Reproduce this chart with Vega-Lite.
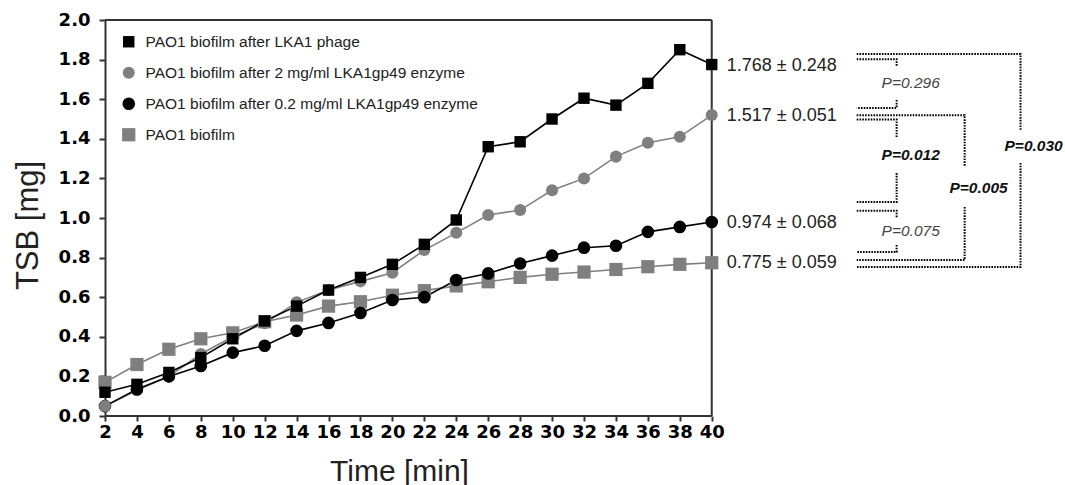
{
  "$schema": "https://vega.github.io/schema/vega-lite/v6.json",
  "width": 958,
  "height": 396,
  "autosize": {"type": "none"},
  "padding": {"left": 105, "top": 20, "right": 2, "bottom": 69},
  "background": "white",
  "config": {"view": {"stroke": null}, "font": "Liberation Sans", "axis": {"labelOverlap": false, "grid": false}},
  "datasets": {
    "series": [
      {"t": 2, "s": "PAO1 biofilm", "v": 0.17}, {"t": 4, "s": "PAO1 biofilm", "v": 0.26}, {"t": 6, "s": "PAO1 biofilm", "v": 0.337}, {"t": 8, "s": "PAO1 biofilm", "v": 0.39}, {"t": 10, "s": "PAO1 biofilm", "v": 0.42}, {"t": 12, "s": "PAO1 biofilm", "v": 0.476}, {"t": 14, "s": "PAO1 biofilm", "v": 0.51}, {"t": 16, "s": "PAO1 biofilm", "v": 0.555}, {"t": 18, "s": "PAO1 biofilm", "v": 0.577}, {"t": 20, "s": "PAO1 biofilm", "v": 0.61}, {"t": 22, "s": "PAO1 biofilm", "v": 0.633}, {"t": 24, "s": "PAO1 biofilm", "v": 0.657}, {"t": 26, "s": "PAO1 biofilm", "v": 0.678}, {"t": 28, "s": "PAO1 biofilm", "v": 0.7}, {"t": 30, "s": "PAO1 biofilm", "v": 0.716}, {"t": 32, "s": "PAO1 biofilm", "v": 0.727}, {"t": 34, "s": "PAO1 biofilm", "v": 0.74}, {"t": 36, "s": "PAO1 biofilm", "v": 0.754}, {"t": 38, "s": "PAO1 biofilm", "v": 0.766}, {"t": 40, "s": "PAO1 biofilm", "v": 0.774},
      {"t": 2, "s": "PAO1 biofilm after 0.2 mg/ml LKA1gp49 enzyme", "v": 0.05},
      {"t": 2, "s": "PAO1 biofilm after 2 mg/ml LKA1gp49 enzyme", "v": 0.05}, {"t": 4, "s": "PAO1 biofilm after 2 mg/ml LKA1gp49 enzyme", "v": 0.13}, {"t": 6, "s": "PAO1 biofilm after 2 mg/ml LKA1gp49 enzyme", "v": 0.2}, {"t": 8, "s": "PAO1 biofilm after 2 mg/ml LKA1gp49 enzyme", "v": 0.313}, {"t": 10, "s": "PAO1 biofilm after 2 mg/ml LKA1gp49 enzyme", "v": 0.4}, {"t": 12, "s": "PAO1 biofilm after 2 mg/ml LKA1gp49 enzyme", "v": 0.468}, {"t": 14, "s": "PAO1 biofilm after 2 mg/ml LKA1gp49 enzyme", "v": 0.574}, {"t": 16, "s": "PAO1 biofilm after 2 mg/ml LKA1gp49 enzyme", "v": 0.636}, {"t": 18, "s": "PAO1 biofilm after 2 mg/ml LKA1gp49 enzyme", "v": 0.68}, {"t": 20, "s": "PAO1 biofilm after 2 mg/ml LKA1gp49 enzyme", "v": 0.724}, {"t": 22, "s": "PAO1 biofilm after 2 mg/ml LKA1gp49 enzyme", "v": 0.838}, {"t": 24, "s": "PAO1 biofilm after 2 mg/ml LKA1gp49 enzyme", "v": 0.925}, {"t": 26, "s": "PAO1 biofilm after 2 mg/ml LKA1gp49 enzyme", "v": 1.015}, {"t": 28, "s": "PAO1 biofilm after 2 mg/ml LKA1gp49 enzyme", "v": 1.04}, {"t": 30, "s": "PAO1 biofilm after 2 mg/ml LKA1gp49 enzyme", "v": 1.14}, {"t": 32, "s": "PAO1 biofilm after 2 mg/ml LKA1gp49 enzyme", "v": 1.2}, {"t": 34, "s": "PAO1 biofilm after 2 mg/ml LKA1gp49 enzyme", "v": 1.31}, {"t": 36, "s": "PAO1 biofilm after 2 mg/ml LKA1gp49 enzyme", "v": 1.38}, {"t": 38, "s": "PAO1 biofilm after 2 mg/ml LKA1gp49 enzyme", "v": 1.41}, {"t": 40, "s": "PAO1 biofilm after 2 mg/ml LKA1gp49 enzyme", "v": 1.52},
      {"t": 4, "s": "PAO1 biofilm after 0.2 mg/ml LKA1gp49 enzyme", "v": 0.135}, {"t": 6, "s": "PAO1 biofilm after 0.2 mg/ml LKA1gp49 enzyme", "v": 0.2}, {"t": 8, "s": "PAO1 biofilm after 0.2 mg/ml LKA1gp49 enzyme", "v": 0.253}, {"t": 10, "s": "PAO1 biofilm after 0.2 mg/ml LKA1gp49 enzyme", "v": 0.32}, {"t": 12, "s": "PAO1 biofilm after 0.2 mg/ml LKA1gp49 enzyme", "v": 0.355}, {"t": 14, "s": "PAO1 biofilm after 0.2 mg/ml LKA1gp49 enzyme", "v": 0.43}, {"t": 16, "s": "PAO1 biofilm after 0.2 mg/ml LKA1gp49 enzyme", "v": 0.47}, {"t": 18, "s": "PAO1 biofilm after 0.2 mg/ml LKA1gp49 enzyme", "v": 0.52}, {"t": 20, "s": "PAO1 biofilm after 0.2 mg/ml LKA1gp49 enzyme", "v": 0.586}, {"t": 22, "s": "PAO1 biofilm after 0.2 mg/ml LKA1gp49 enzyme", "v": 0.6}, {"t": 24, "s": "PAO1 biofilm after 0.2 mg/ml LKA1gp49 enzyme", "v": 0.687}, {"t": 26, "s": "PAO1 biofilm after 0.2 mg/ml LKA1gp49 enzyme", "v": 0.72}, {"t": 28, "s": "PAO1 biofilm after 0.2 mg/ml LKA1gp49 enzyme", "v": 0.77}, {"t": 30, "s": "PAO1 biofilm after 0.2 mg/ml LKA1gp49 enzyme", "v": 0.81}, {"t": 32, "s": "PAO1 biofilm after 0.2 mg/ml LKA1gp49 enzyme", "v": 0.85}, {"t": 34, "s": "PAO1 biofilm after 0.2 mg/ml LKA1gp49 enzyme", "v": 0.86}, {"t": 36, "s": "PAO1 biofilm after 0.2 mg/ml LKA1gp49 enzyme", "v": 0.93}, {"t": 38, "s": "PAO1 biofilm after 0.2 mg/ml LKA1gp49 enzyme", "v": 0.955}, {"t": 40, "s": "PAO1 biofilm after 0.2 mg/ml LKA1gp49 enzyme", "v": 0.98},
      {"t": 2, "s": "PAO1 biofilm after LKA1 phage", "v": 0.12}, {"t": 4, "s": "PAO1 biofilm after LKA1 phage", "v": 0.16}, {"t": 6, "s": "PAO1 biofilm after LKA1 phage", "v": 0.22}, {"t": 8, "s": "PAO1 biofilm after LKA1 phage", "v": 0.295}, {"t": 10, "s": "PAO1 biofilm after LKA1 phage", "v": 0.39}, {"t": 12, "s": "PAO1 biofilm after LKA1 phage", "v": 0.48}, {"t": 14, "s": "PAO1 biofilm after LKA1 phage", "v": 0.555}, {"t": 16, "s": "PAO1 biofilm after LKA1 phage", "v": 0.636}, {"t": 18, "s": "PAO1 biofilm after LKA1 phage", "v": 0.7}, {"t": 20, "s": "PAO1 biofilm after LKA1 phage", "v": 0.766}, {"t": 22, "s": "PAO1 biofilm after LKA1 phage", "v": 0.867}, {"t": 24, "s": "PAO1 biofilm after LKA1 phage", "v": 0.99}, {"t": 26, "s": "PAO1 biofilm after LKA1 phage", "v": 1.36}, {"t": 28, "s": "PAO1 biofilm after LKA1 phage", "v": 1.385}, {"t": 30, "s": "PAO1 biofilm after LKA1 phage", "v": 1.5}, {"t": 32, "s": "PAO1 biofilm after LKA1 phage", "v": 1.605}, {"t": 34, "s": "PAO1 biofilm after LKA1 phage", "v": 1.57}, {"t": 36, "s": "PAO1 biofilm after LKA1 phage", "v": 1.68}, {"t": 38, "s": "PAO1 biofilm after LKA1 phage", "v": 1.85}, {"t": 40, "s": "PAO1 biofilm after LKA1 phage", "v": 1.775}
    ],
    "frame": [
      {"t": 2, "t2": 40, "v": 0, "v2": 0},
      {"t": 2, "t2": 40, "v": 2, "v2": 2},
      {"t": 40, "t2": 40, "v": 0, "v2": 2}
    ],
    "means": [
      {"t": 40, "v": 1.768, "label": "1.768 ± 0.248"},
      {"t": 40, "v": 1.517, "label": "1.517 ± 0.051"},
      {"t": 40, "v": 0.974, "label": "0.974 ± 0.068"},
      {"t": 40, "v": 0.775, "label": "0.775 ± 0.059"}
    ],
    "brackets": [
      {"g": 1, "o": 1, "t": 49.08, "v": 1.802}, {"g": 1, "o": 2, "t": 51.58, "v": 1.802}, {"g": 1, "o": 3, "t": 51.58, "v": 1.768},
      {"g": 2, "o": 1, "t": 51.58, "v": 1.596}, {"g": 2, "o": 2, "t": 51.58, "v": 1.556}, {"g": 2, "o": 3, "t": 49.08, "v": 1.556},
      {"g": 3, "o": 1, "t": 49.08, "v": 1.498}, {"g": 3, "o": 2, "t": 51.58, "v": 1.498}, {"g": 3, "o": 3, "t": 51.58, "v": 1.409},
      {"g": 4, "o": 1, "t": 51.58, "v": 1.227}, {"g": 4, "o": 2, "t": 51.58, "v": 1.081}, {"g": 4, "o": 3, "t": 49.08, "v": 1.081},
      {"g": 5, "o": 1, "t": 49.08, "v": 1.037}, {"g": 5, "o": 2, "t": 51.58, "v": 1.037}, {"g": 5, "o": 3, "t": 51.58, "v": 1.0},
      {"g": 6, "o": 1, "t": 51.58, "v": 0.864}, {"g": 6, "o": 2, "t": 51.58, "v": 0.828}, {"g": 6, "o": 3, "t": 49.08, "v": 0.828},
      {"g": 7, "o": 1, "t": 49.08, "v": 1.519}, {"g": 7, "o": 2, "t": 55.84, "v": 1.519}, {"g": 7, "o": 3, "t": 55.84, "v": 1.258},
      {"g": 8, "o": 1, "t": 55.84, "v": 1.056}, {"g": 8, "o": 2, "t": 55.84, "v": 0.788}, {"g": 8, "o": 3, "t": 49.08, "v": 0.788},
      {"g": 9, "o": 1, "t": 49.08, "v": 1.828}, {"g": 9, "o": 2, "t": 59.34, "v": 1.828}, {"g": 9, "o": 3, "t": 59.34, "v": 1.444},
      {"g": 10, "o": 1, "t": 59.34, "v": 1.278}, {"g": 10, "o": 2, "t": 59.34, "v": 0.7525}, {"g": 10, "o": 3, "t": 49.08, "v": 0.7525}
    ],
    "pvals": [
      {"t": 52.46, "v": 1.682, "label": "P=0.296", "sig": false},
      {"t": 52.46, "v": 1.318, "label": "P=0.012", "sig": true},
      {"t": 52.46, "v": 0.934, "label": "P=0.075", "sig": false},
      {"t": 56.71, "v": 1.152, "label": "P=0.005", "sig": true},
      {"t": 60.16, "v": 1.364, "label": "P=0.030", "sig": true}
    ]
  },
  "encoding": {
    "x": {
      "field": "t", "type": "quantitative",
      "scale": {"domain": [2, 62], "nice": false, "zero": false},
      "axis": {
        "values": [2, 4, 6, 8, 10, 12, 14, 16, 18, 20, 22, 24, 26, 28, 30, 32, 34, 36, 38, 40],
        "format": "d", "domain": false, "grid": false,
        "ticks": true, "tickSize": 5, "tickColor": "#333333", "tickWidth": 2,
        "labelFont": "DejaVu Sans", "labelFontWeight": "bold", "labelFontSize": 18, "labelColor": "#000000",
        "labelPadding": 2, "labelFlush": false, "labelOverlap": false,
        "title": "Time [min]", "titleFont": "Liberation Sans", "titleFontSize": 30, "titleFontWeight": "normal",
        "titleColor": "#222222", "titleX": 294, "titleY": 64, "titleBaseline": "alphabetic", "titleAlign": "center"
      }
    },
    "y": {
      "field": "v", "type": "quantitative",
      "scale": {"domain": [0, 2], "nice": false, "zero": true},
      "axis": {
        "values": [0, 0.2, 0.4, 0.6, 0.8, 1.0, 1.2, 1.4, 1.6, 1.8, 2.0],
        "format": ".1f", "grid": false,
        "domainColor": "#333333", "domainWidth": 2,
        "tickSize": 6, "tickColor": "#333333", "tickWidth": 2,
        "labelFont": "DejaVu Sans", "labelFontWeight": "bold", "labelFontSize": 18, "labelColor": "#000000",
        "labelPadding": 9, "labelFlush": false, "labelOverlap": false,
        "title": "TSB [mg]", "titleFont": "Liberation Sans", "titleFontSize": 31, "titleFontWeight": "normal",
        "titleColor": "#222222", "titleAngle": -90, "titleX": -77, "titleY": 205, "titleBaseline": "middle", "titleAlign": "center"
      }
    }
  },
  "layer": [
    {
      "data": {"name": "frame"},
      "mark": {"type": "rule", "color": "#333333", "strokeWidth": 2},
      "encoding": {
        "x2": {"field": "t2"},
        "y2": {"field": "v2"}
      }
    },
    {
      "data": {"name": "series"},
      "transform": [{"filter": "datum.s === 'PAO1 biofilm' || datum.s === 'PAO1 biofilm after 2 mg/ml LKA1gp49 enzyme'"}],
      "mark": {"type": "line", "color": "#808080", "strokeWidth": 1.6},
      "encoding": {
        "detail": {"field": "s"}
      }
    },
    {
      "data": {"name": "series"},
      "transform": [{"filter": "datum.s === 'PAO1 biofilm after LKA1 phage' || datum.s === 'PAO1 biofilm after 0.2 mg/ml LKA1gp49 enzyme'"}],
      "mark": {"type": "line", "color": "#000000", "strokeWidth": 1.6},
      "encoding": {
        "detail": {"field": "s"}
      }
    },
    {
      "data": {"name": "series"},
      "mark": {"type": "point", "filled": true, "opacity": 1, "strokeWidth": 0},
      "encoding": {
        "color": {
          "field": "s", "type": "nominal",
          "scale": {
            "domain": ["PAO1 biofilm after LKA1 phage", "PAO1 biofilm after 2 mg/ml LKA1gp49 enzyme", "PAO1 biofilm after 0.2 mg/ml LKA1gp49 enzyme", "PAO1 biofilm"],
            "range": ["#000000", "#7f7f7f", "#000000", "#7f7f7f"]
          },
          "legend": {
            "title": null, "orient": "none", "legendX": 16, "legendY": 14, "padding": 0,
            "symbolSize": 170, "symbolStrokeWidth": 0, "labelFont": "Liberation Sans", "labelFontSize": 15.5,
            "labelColor": "#222222", "labelOffset": 9, "rowPadding": 14, "labelLimit": 500
          }
        },
        "shape": {
          "field": "s", "type": "nominal",
          "scale": {
            "domain": ["PAO1 biofilm after LKA1 phage", "PAO1 biofilm after 2 mg/ml LKA1gp49 enzyme", "PAO1 biofilm after 0.2 mg/ml LKA1gp49 enzyme", "PAO1 biofilm"],
            "range": ["square", "circle", "circle", "square"]
          },
          "legend": {
            "title": null, "orient": "none", "legendX": 16, "legendY": 14, "padding": 0,
            "symbolSize": 170, "symbolStrokeWidth": 0, "labelFont": "Liberation Sans", "labelFontSize": 15.5,
            "labelColor": "#222222", "labelOffset": 9, "rowPadding": 14, "labelLimit": 500
          }
        },
        "size": {
          "field": "s", "type": "nominal",
          "scale": {
            "domain": ["PAO1 biofilm after LKA1 phage", "PAO1 biofilm after 2 mg/ml LKA1gp49 enzyme", "PAO1 biofilm after 0.2 mg/ml LKA1gp49 enzyme", "PAO1 biofilm"],
            "range": [130, 175, 175, 130]
          },
          "legend": null
        }
      }
    },
    {
      "data": {"name": "means"},
      "mark": {"type": "text", "align": "left", "baseline": "middle", "dx": 15, "font": "Liberation Sans", "fontSize": 18, "color": "#222222"},
      "encoding": {
        "text": {"field": "label"}
      }
    },
    {
      "data": {"name": "brackets"},
      "mark": {"type": "line", "color": "#000000", "strokeWidth": 2, "strokeDash": [1.6, 1.2], "strokeCap": "butt", "interpolate": "linear"},
      "encoding": {
        "detail": {"field": "g"},
        "order": {"field": "o"}
      }
    },
    {
      "data": {"name": "pvals"},
      "transform": [{"filter": "!datum.sig"}],
      "mark": {"type": "text", "align": "center", "baseline": "middle", "font": "Liberation Sans", "fontSize": 15.5, "fontStyle": "italic", "color": "#444444"},
      "encoding": {
        "text": {"field": "label"}
      }
    },
    {
      "data": {"name": "pvals"},
      "transform": [{"filter": "datum.sig"}],
      "mark": {"type": "text", "align": "center", "baseline": "middle", "font": "Liberation Sans", "fontSize": 15.5, "fontStyle": "italic", "fontWeight": "bold", "color": "#111111"},
      "encoding": {
        "text": {"field": "label"}
      }
    }
  ]
}
